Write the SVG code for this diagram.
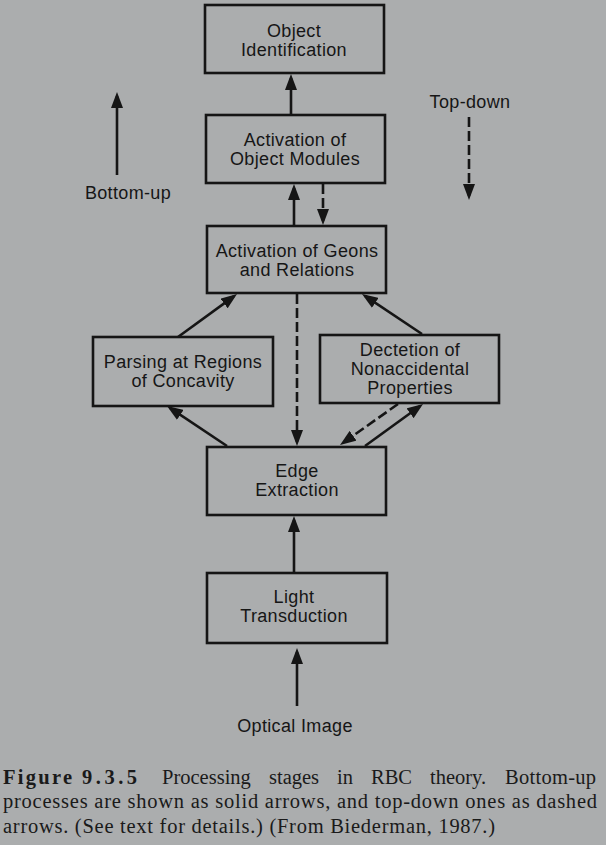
<svg xmlns="http://www.w3.org/2000/svg" width="606" height="845" viewBox="0 0 606 845">
<style>
.box{fill:none;stroke:#151515;stroke-width:2.6}
.t{font-family:"Liberation Sans",Arial,sans-serif;font-size:18px;letter-spacing:0.35px;fill:#161616;text-anchor:middle}
.a{fill:none;stroke:#151515;stroke-width:2.6;marker-end:url(#ah)}
.d{stroke-dasharray:10 4}
.cap{font-family:"Liberation Serif","Times New Roman",serif;font-size:20.5px;fill:#1a1a1a}
.b{font-weight:bold}
</style>
<defs>
<marker id="ah" markerUnits="userSpaceOnUse" markerWidth="16" markerHeight="12" refX="12" refY="6" orient="auto">
<path d="M0,0 L16,6 L0,12 z" fill="#151515"/>
</marker>
</defs>
<rect width="606" height="845" fill="#abadae"/>
<g id="n1"><rect class="box" x="205" y="5" width="179" height="68"/><text class="t" x="294" y="37">Object</text><text class="t" x="294" y="56">Identification</text></g>
<g id="n2"><rect class="box" x="206" y="115" width="179" height="68"/><text class="t" x="295" y="146">Activation of</text><text class="t" x="295" y="165">Object Modules</text></g>
<g id="n3"><rect class="box" x="207" y="226" width="179" height="67"/><text class="t" x="297" y="257">Activation of Geons</text><text class="t" x="297" y="276">and Relations</text></g>
<g id="n4"><rect class="box" x="93" y="337" width="180" height="69"/><text class="t" x="183" y="368">Parsing at Regions</text><text class="t" x="183" y="387">of Concavity</text></g>
<g id="n5"><rect class="box" x="320" y="335" width="179" height="68"/><text class="t" x="410" y="356">Dectetion of</text><text class="t" x="410" y="375">Nonaccidental</text><text class="t" x="410" y="394">Properties</text></g>
<g id="n6"><rect class="box" x="207" y="447" width="179" height="68"/><text class="t" x="297" y="477">Edge</text><text class="t" x="297" y="496">Extraction</text></g>
<g id="n7"><rect class="box" x="207" y="573" width="180" height="70"/><text class="t" x="294" y="603">Light</text><text class="t" x="294" y="622">Transduction</text></g>
<g id="labels">
<text class="t" x="295" y="732">Optical Image</text>
<text class="t" x="128" y="199">Bottom-up</text>
<text class="t" x="470" y="108">Top-down</text>
</g>
<g id="connectors">
<line class="a" x1="291" y1="115" x2="291" y2="78"/>
<line class="a" x1="294" y1="226" x2="294" y2="188"/>
<line class="a d" x1="323" y1="184" x2="323" y2="221"/>
<line class="a d" x1="297" y1="294" x2="297" y2="442"/>
<line class="a" x1="294" y1="573" x2="294" y2="520"/>
<line class="a" x1="297" y1="706" x2="297" y2="652"/>
<line class="a" x1="117" y1="175" x2="117" y2="96"/>
<line class="a d" x1="469" y1="117" x2="469" y2="196"/>
<line class="a" x1="178" y1="337" x2="233.8" y2="296.4"/>
<line class="a" x1="227" y1="446" x2="170.3" y2="408.2"/>
<line class="a" x1="422" y1="334" x2="365.3" y2="296.2"/>
<line class="a d" x1="398" y1="404" x2="343.3" y2="442.7"/>
<line class="a" x1="365" y1="446" x2="419.8" y2="406.3"/>
</g>
<g id="caption">
<text class="cap b" x="3" y="784" textLength="69" lengthAdjust="spacing">Figure</text>
<text class="cap b" x="82" y="784" textLength="55" lengthAdjust="spacing">9.3.5</text>
<text class="cap" x="162" y="784">Processing</text>
<text class="cap" x="269" y="784">stages</text>
<text class="cap" x="337" y="784">in</text>
<text class="cap" x="371" y="784">RBC</text>
<text class="cap" x="430" y="784">theory.</text>
<text class="cap" x="505" y="784" textLength="91" lengthAdjust="spacing">Bottom-up</text>
<text class="cap" x="3" y="808" textLength="594" lengthAdjust="spacing">processes are shown as solid arrows, and top-down ones as dashed</text>
<text class="cap" x="3" y="833" textLength="492" lengthAdjust="spacing">arrows. (See text for details.) (From Biederman, 1987.)</text>
</g>
</svg>
